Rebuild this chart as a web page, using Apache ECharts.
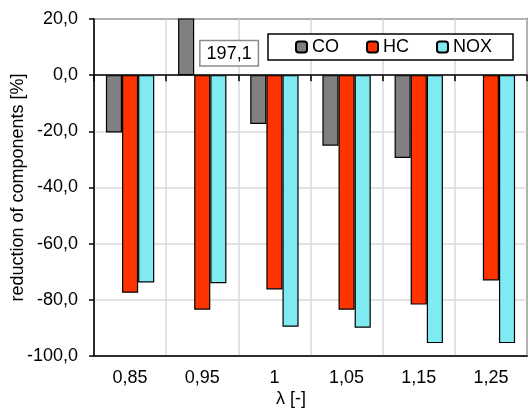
<!DOCTYPE html>
<html>
<head>
<meta charset="utf-8">
<script src="https://cdn.jsdelivr.net/npm/echarts@6/dist/echarts.min.js"></script>
<style>
  html, body { margin: 0; padding: 0; background: #fff; }
  #chart { width: 528px; height: 408px; }
</style>
</head>
<body>
<div id="chart"></div>
<script>
// Excess-air ratio values on the x axis
const lambdas = ['0,85', '0,95', '1', '1,05', '1,15', '1,25'];
// Reduction of each exhaust component in percent
const coValues  = [-20.4, 197.1, -17.4, -25.1, -29.5, null];
const hcValues  = [-77.5, -83.5, -76.3, -83.5, -81.7, -73.1];
const noxValues = [-73.8, -74.1, -89.6, -89.9, -95.4, -95.4];
// Value axis ticks
const yTicks = [-100, -80, -60, -40, -20, 0, 20];

const Y_MIN = yTicks[0];
const Y_MAX = yTicks[yTicks.length - 1];
const FONT = '"Liberation Sans", Arial, sans-serif';
const fmt = v => v.toFixed(1).replace('.', ',');

// Values that run past the top of the axis get a boxed value label
function withOverflowLabels(values) {
  return values.map(v => {
    if (v !== null && v > Y_MAX) {
      return {
        value: v,
        label: {
          show: true,
          position: 'insideBottom',
          distance: 0,
          offset: [43, -10],
          formatter: p => fmt(p.value),
          fontFamily: FONT,
          fontSize: 18,
          color: '#000',
          backgroundColor: '#fff',
          borderColor: '#8a8a8a',
          borderWidth: 1.5,
          padding: [4, 6, 2, 6]
        }
      };
    }
    return v;
  });
}

const barBase = {
  type: 'bar',
  xAxisIndex: 0,
  barGap: '0%',
  barCategoryGap: '33%'
};

const chart = echarts.init(document.getElementById('chart'), null, { renderer: 'canvas' });
chart.setOption({
  animation: false,
  backgroundColor: '#fff',
  textStyle: { fontFamily: FONT },
  grid: {
    left: 94, right: 1, top: 19, bottom: 52,
    outerBoundsMode: 'none',
    containLabel: false,
    show: true, borderColor: '#000', borderWidth: 1.5
  },
  legend: {
    left: 268, top: 34,
    orient: 'horizontal',
    itemWidth: 11, itemHeight: 11, itemGap: 27,
    padding: [4, 21, 4, 27],
    borderColor: '#000', borderWidth: 1.5,
    backgroundColor: '#fff',
    textStyle: { fontFamily: FONT, fontSize: 18, color: '#000' },
    data: ['CO', 'HC', 'NOX']
  },
  xAxis: [
    {
      type: 'category',
      data: lambdas,
      position: 'bottom',
      axisLine: { onZero: false, lineStyle: { color: '#000', width: 1.5 } },
      axisTick: { show: false },
      axisLabel: { fontFamily: FONT, fontSize: 18, color: '#000', margin: 13 },
      splitLine: { show: true, lineStyle: { color: '#d9d9d9', width: 1.5 } }
    },
    {
      // category line drawn through zero with its boundary ticks
      type: 'category',
      data: lambdas,
      position: 'bottom',
      axisLine: { onZero: true, lineStyle: { color: '#000', width: 1.5 } },
      axisTick: { show: true, length: 6, lineStyle: { color: '#000', width: 1.5 } },
      axisLabel: { show: false },
      splitLine: { show: false }
    }
  ],
  yAxis: {
    type: 'value',
    min: Y_MIN, max: Y_MAX, interval: 20,
    name: 'reduction of components [%]',
    nameLocation: 'middle',
    nameGap: 67,
    nameMoveOverlap: false,
    nameTextStyle: { fontFamily: FONT, fontSize: 18, color: '#000' },
    axisLine: { show: true, lineStyle: { color: '#000', width: 1.5 } },
    axisTick: { show: true, length: 5, lineStyle: { color: '#000', width: 1.5 } },
    axisLabel: { fontFamily: FONT, fontSize: 18, color: '#000', margin: 16, formatter: fmt },
    splitLine: { show: true, lineStyle: { color: '#d9d9d9', width: 1.5 } }
  },
  graphic: [{
    type: 'text',
    left: 276, top: 390,
    style: { text: 'λ [-]', fontFamily: FONT, fontSize: 18, fill: '#000' }
  }],
  series: [
    Object.assign({}, barBase, { name: 'CO', data: withOverflowLabels(coValues), itemStyle: { color: '#808080', borderColor: '#000', borderWidth: 1.2 } }),
    Object.assign({}, barBase, { name: 'HC', data: withOverflowLabels(hcValues), itemStyle: { color: '#ff3300', borderColor: '#000', borderWidth: 1.2 } }),
    Object.assign({}, barBase, { name: 'NOX', data: withOverflowLabels(noxValues), itemStyle: { color: '#80eaf3', borderColor: '#000', borderWidth: 1.2 } })
  ]
});
</script>
</body>
</html>
